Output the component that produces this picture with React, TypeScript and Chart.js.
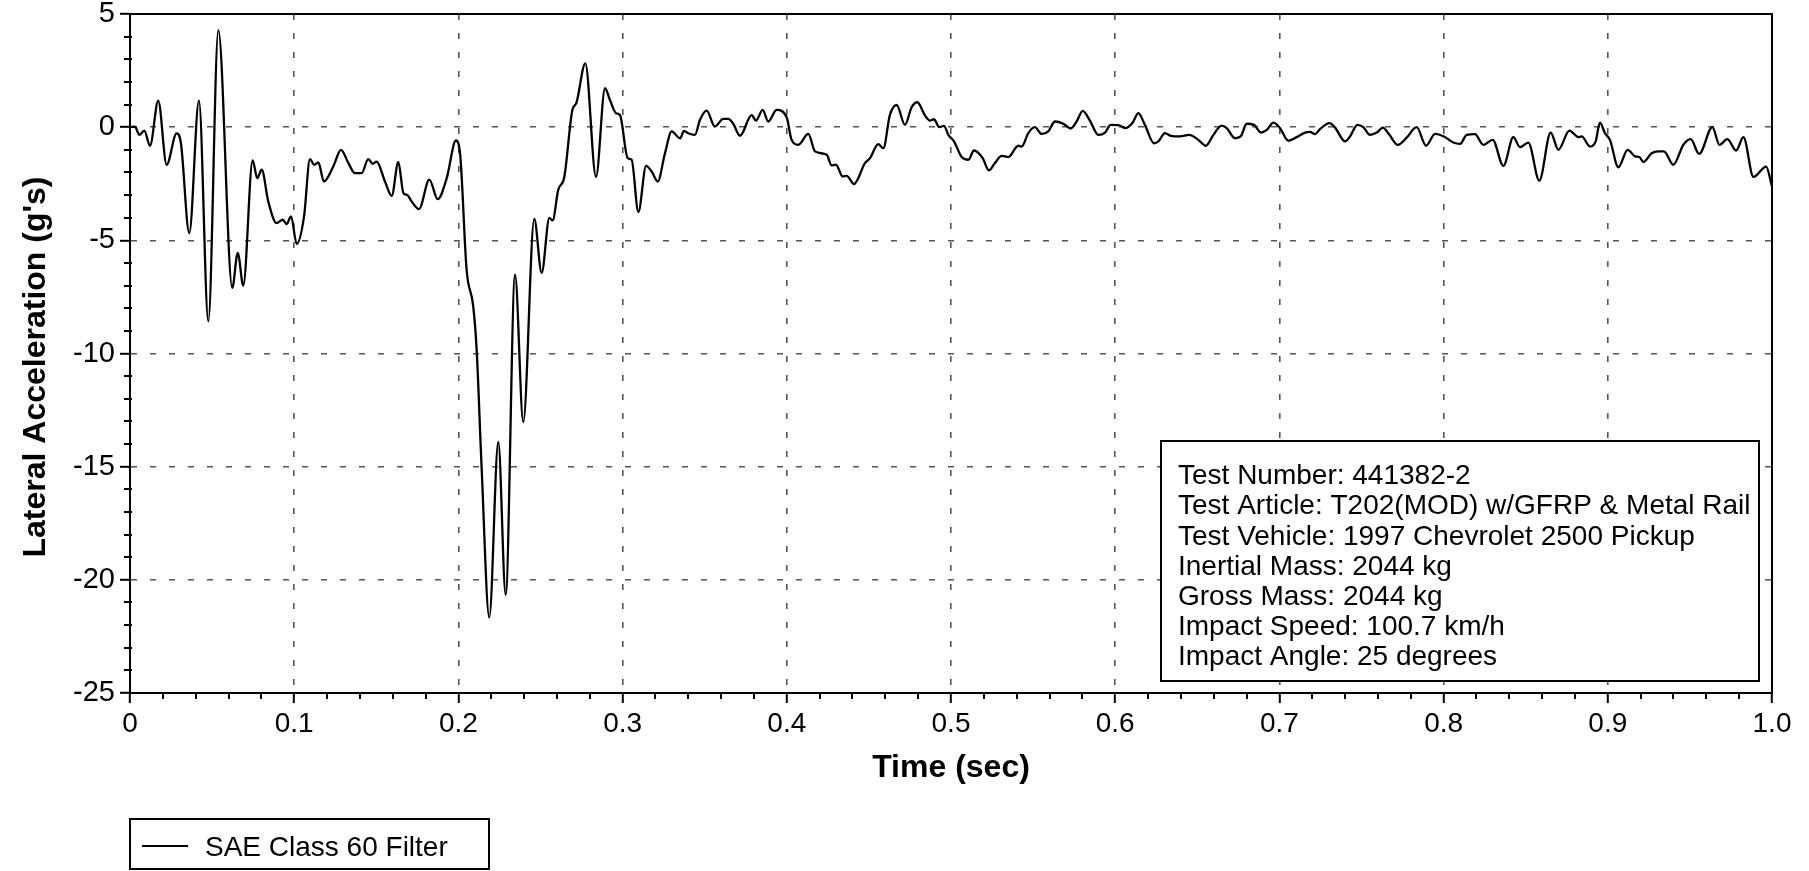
import React, { useEffect, useRef } from 'react';
import Chart from 'chart.js/auto';

const timeValues = [
  0.000, 0.003, 0.0057, 0.0087, 0.0122, 0.0172, 0.0223, 0.0284, 0.031, 0.0361,
  0.042, 0.0477, 0.0538, 0.0623, 0.0656, 0.069, 0.0747, 0.0775, 0.0802, 0.0842,
  0.0893, 0.093, 0.0954, 0.0981, 0.1015, 0.106, 0.1096, 0.1122, 0.1147, 0.1181,
  0.1238, 0.1285, 0.133, 0.137, 0.1411, 0.1451, 0.1478, 0.1502, 0.1553, 0.1594,
  0.1634, 0.1665, 0.1689, 0.1715, 0.176, 0.1823, 0.1874, 0.1929, 0.1985, 0.201,
  0.205, 0.209, 0.2111, 0.2141, 0.2188, 0.2243, 0.2288, 0.2345, 0.2395, 0.2462,
  0.2507, 0.2554, 0.2574, 0.2608, 0.2645, 0.2694, 0.2718, 0.2773, 0.2838, 0.2893,
  0.2923, 0.296, 0.2984, 0.3031, 0.3055, 0.3096, 0.3143, 0.3177, 0.3214, 0.3258,
  0.3299, 0.335, 0.3374, 0.34, 0.3441, 0.3471, 0.3512, 0.3562, 0.3613, 0.3644,
  0.3674, 0.3715, 0.3786, 0.3812, 0.3853, 0.3887, 0.3938, 0.3999, 0.4029, 0.407,
  0.4131, 0.4172, 0.4243, 0.4273, 0.43, 0.434, 0.4365, 0.4409, 0.4476, 0.4507,
  0.4557, 0.4588, 0.4628, 0.4669, 0.472, 0.476, 0.4795, 0.4842, 0.4872, 0.4896,
  0.4929, 0.4957, 0.4984, 0.5018, 0.5065, 0.5106, 0.514, 0.5193, 0.5231, 0.5264,
  0.5309, 0.5349, 0.541, 0.543, 0.5471, 0.5511, 0.5552, 0.5592, 0.5633, 0.5684,
  0.5729, 0.5765, 0.5802, 0.5846, 0.5897, 0.5938, 0.5972, 0.6019, 0.606, 0.6106,
  0.6141, 0.6181, 0.6236, 0.6263, 0.6303, 0.6338, 0.6395, 0.6451, 0.6506, 0.6553,
  0.6598, 0.6648, 0.6679, 0.673, 0.6764, 0.6801, 0.6845, 0.6888, 0.6923, 0.6963,
  0.7003, 0.7054, 0.7105, 0.7156, 0.7186, 0.7217, 0.7247, 0.7304, 0.7339, 0.74,
  0.743, 0.7475, 0.7511, 0.7552, 0.7593, 0.763, 0.767, 0.7721, 0.7775, 0.7836,
  0.7893, 0.7948, 0.8002, 0.8059, 0.81, 0.8141, 0.8191, 0.8242, 0.8299, 0.8364,
  0.8425, 0.8465, 0.8516, 0.8583, 0.8652, 0.8699, 0.8766, 0.8821, 0.8841, 0.8892,
  0.8926, 0.8952, 0.8983, 0.9013, 0.9064, 0.9121, 0.9166, 0.9192, 0.9217, 0.9267,
  0.9308, 0.9342, 0.9399, 0.946, 0.9505, 0.9556, 0.9637, 0.968, 0.9728, 0.9781,
  0.9826, 0.9887, 0.9964, 1.0,
];

const accelValues = [
  0.00, 0.02, -0.34, -0.15, -0.82, 1.17, -1.66, -0.27, -0.70, -4.68,
  1.17, -8.58, 4.29, -7.10, -5.55, -7.00, -1.47, -2.25, -1.88, -3.28,
  -4.24, -4.09, -4.28, -3.94, -5.16, -3.94, -1.41, -1.66, -1.56, -2.40,
  -1.74, -1.00, -1.59, -2.03, -2.03, -1.41, -1.62, -1.52, -2.40, -3.03,
  -1.54, -2.91, -3.00, -3.28, -3.62, -2.32, -3.18, -2.25, -0.59, -1.15,
  -6.30, -7.90, -9.80, -14.97, -21.66, -13.91, -20.66, -6.52, -13.03, -4.05,
  -6.44, -4.01, -4.12, -2.77, -2.20, 0.76, 1.06, 2.82, -2.20, 1.72,
  1.20, 0.62, 0.54, -1.37, -1.44, -3.75, -1.71, -1.96, -2.40, -1.15,
  -0.19, -0.49, -0.16, -0.27, -0.34, 0.32, 0.73, 0.03, 0.37, 0.37,
  0.15, -0.38, 0.53, 0.29, 0.76, 0.25, 0.76, 0.44, -0.56, -0.78,
  -0.30, -1.07, -1.22, -1.69, -1.66, -2.18, -2.15, -2.51, -1.59, -1.37,
  -0.75, -0.93, 0.54, 0.98, 0.10, 0.88, 1.10, 0.51, 0.29, 0.35,
  0.00, 0.06, -0.34, -0.63, -1.32, -1.44, -1.03, -1.37, -1.91, -1.62,
  -1.27, -1.32, -0.82, -0.86, -0.26, 0.00, -0.30, -0.19, 0.25, 0.15,
  -0.06, 0.25, 0.72, 0.29, -0.34, -0.24, 0.10, 0.09, -0.04, 0.20,
  0.62, 0.10, -0.71, -0.63, -0.26, -0.38, -0.41, -0.34, -0.56, -0.82,
  -0.34, 0.07, -0.04, -0.49, -0.41, 0.15, 0.10, -0.24, -0.12, 0.20,
  -0.04, -0.60, -0.44, -0.24, -0.21, -0.31, -0.09, 0.18, -0.02, -0.63,
  -0.41, 0.10, 0.00, -0.34, -0.24, -0.02, -0.34, -0.78, -0.46, 0.00,
  -0.82, -0.30, -0.41, -0.68, -0.74, -0.34, -0.31, -0.78, -0.56, -1.71,
  -0.44, -0.88, -0.68, -2.36, -0.24, -1.00, -0.15, -0.44, -0.41, -0.86,
  -0.63, 0.20, -0.27, -0.56, -1.77, -1.00, -1.29, -1.32, -1.54, -1.15,
  -1.07, -1.07, -1.66, -0.78, -0.53, -1.18, 0.00, -0.78, -0.53, -1.03,
  -0.44, -2.20, -1.74, -2.62,
];

const xTickValues = [0, 0.1, 0.2, 0.3, 0.4, 0.5, 0.6, 0.7, 0.8, 0.9, 1.0];
const xTickLabels = ['0', '0.1', '0.2', '0.3', '0.4', '0.5', '0.6', '0.7', '0.8', '0.9', '1.0'];
const yTickValues = [-25, -20, -15, -10, -5, 0, 5];
const yTickLabels = ['-25', '-20', '-15', '-10', '-5', '0', '5'];

const seriesLabel = 'SAE Class 60 Filter';
const xTitle = 'Time (sec)';
const yTitle = "Lateral Acceleration (g's)";
const infoLines = [
  'Test Number: 441382-2',
  'Test Article: T202(MOD) w/GFRP & Metal Rail',
  'Test Vehicle: 1997 Chevrolet 2500 Pickup',
  'Inertial Mass: 2044 kg',
  'Gross Mass: 2044 kg',
  'Impact Speed: 100.7 km/h',
  'Impact Angle: 25 degrees',
];

const FONT = "'Liberation Sans', Arial, Helvetica, sans-serif";

const decorPlugin = {
  id: 'decor',
  afterDraw(chart: any) {
    const { ctx, chartArea } = chart;
    const xs = chart.scales.x;
    const ys = chart.scales.y;
    ctx.save();
    ctx.setLineDash([]);
    // frame
    ctx.strokeStyle = '#000';
    ctx.lineWidth = 2;
    ctx.strokeRect(chartArea.left, chartArea.top, chartArea.right - chartArea.left, chartArea.bottom - chartArea.top);
    // minor ticks
    ctx.beginPath();
    for (let i = 0; i <= 50; i++) {
      if (i % 5 === 0) continue;
      const px = Math.round(xs.getPixelForValue(i * 0.02));
      ctx.moveTo(px, chartArea.bottom);
      ctx.lineTo(px, chartArea.bottom + 6);
    }
    for (let v = -25; v <= 5; v++) {
      if (v % 5 === 0) continue;
      const py = Math.round(ys.getPixelForValue(v));
      ctx.moveTo(chartArea.left - 6, py);
      ctx.lineTo(chartArea.left + 2, py);
    }
    ctx.stroke();

    // y axis title (drawn here so it can sit where the reference puts it)
    ctx.save();
    ctx.translate(36, 367);
    ctx.rotate(-Math.PI / 2);
    ctx.font = `bold 32px ${FONT}`;
    ctx.fillStyle = '#000';
    ctx.textAlign = 'center';
    ctx.textBaseline = 'middle';
    ctx.fillText(yTitle, 0, 0);
    ctx.restore();

    // info box
    const bx = 1161, by = 441, bw = 598, bh = 240;
    ctx.fillStyle = '#fff';
    ctx.fillRect(bx, by, bw, bh);
    ctx.strokeStyle = '#000';
    ctx.lineWidth = 2;
    ctx.strokeRect(bx, by, bw, bh);
    ctx.fillStyle = '#000';
    ctx.font = `28px ${FONT}`;
    ctx.textBaseline = 'middle';
    ctx.textAlign = 'left';
    infoLines.forEach((line, i) => {
      ctx.fillText(line, 1178, 476.5 + i * 30.2);
    });

    // legend
    const lx = 130, ly = 819, lw = 359, lh = 50;
    ctx.strokeRect(lx, ly, lw, lh);
    ctx.beginPath();
    ctx.lineWidth = 2;
    ctx.moveTo(142, ly + lh / 2 + 2);
    ctx.lineTo(188, ly + lh / 2 + 2);
    ctx.stroke();
    ctx.fillText(chart.data.datasets[0].label, 205, ly + lh / 2 + 4);
    ctx.restore();
  },
};

export default function App() {
  const canvasRef = useRef<HTMLCanvasElement | null>(null);

  useEffect(() => {
    if (!canvasRef.current) return;
    Chart.defaults.font.family = FONT;
    const data = timeValues.map((t, i) => ({ x: t, y: accelValues[i] }));
    const chart = new Chart(canvasRef.current, {
      type: 'line',
      data: {
        datasets: [
          {
            label: seriesLabel,
            data,
            borderColor: '#000',
            backgroundColor: '#000',
            borderWidth: 2.3,
            pointRadius: 0,
            cubicInterpolationMode: 'monotone',
            fill: false,
          },
        ],
      },
      options: {
        responsive: false,
        animation: false,
        events: [],
        layout: { padding: { left: 0, top: 14, right: 37, bottom: 0 } },
        plugins: { legend: { display: false }, tooltip: { enabled: false }, title: { display: false } },
        scales: {
          x: {
            type: 'linear',
            min: 0,
            max: 1,
            ticks: {
              stepSize: 0.1,
              autoSkip: false,
              maxRotation: 0,
              padding: 4,
              color: '#000',
              font: { size: 28 },
              callback: (v: any) => {
                const idx = xTickValues.findIndex((t) => Math.abs(t - Number(v)) < 1e-6);
                return idx >= 0 ? xTickLabels[idx] : '';
              },
            },
            grid: {
              color: (c: any) => (c.tick && (Math.abs(c.tick.value) < 1e-6 || Math.abs(c.tick.value - 1) < 1e-6) ? 'rgba(0,0,0,0)' : '#555'),
              lineWidth: 1.6,
              tickColor: '#000',
              tickWidth: 2,
              tickLength: 10,
            },
            border: { display: true, color: '#000', width: 2, dash: [6, 13] },
            title: {
              display: true,
              text: xTitle,
              color: '#000',
              font: { size: 32, weight: 'bold' },
              padding: { top: 0, bottom: 84 },
            },
            afterFit: (s: any) => {
              s.height = 178;
            },
          },
          y: {
            type: 'linear',
            min: -25,
            max: 5,
            ticks: {
              stepSize: 5,
              padding: 5,
              color: '#000',
              font: { size: 29 },
              callback: (v: any) => {
                const idx = yTickValues.indexOf(Number(v));
                return idx >= 0 ? yTickLabels[idx] : '';
              },
            },
            grid: {
              color: (c: any) => (c.tick && (c.tick.value === -25 || c.tick.value === 5) ? 'rgba(0,0,0,0)' : '#555'),
              lineWidth: 1.6,
              tickColor: '#000',
              tickWidth: 2,
              tickLength: 10,
            },
            border: { display: true, color: '#000', width: 2, dash: [6, 13] },
            title: { display: false, text: yTitle },
            afterFit: (s: any) => {
              s.width = 130;
              s.paddingTop = 0;
              s.paddingBottom = 0;
            },
          },
        },
      },
      plugins: [decorPlugin],
    } as any);
    return () => chart.destroy();
  }, []);

  return (
    <div style={{ position: 'absolute', left: 0, top: 0, width: 1809, height: 871, background: '#fff' }}>
      <canvas ref={canvasRef} width={1809} height={871} style={{ display: 'block' }} />
    </div>
  );
}
